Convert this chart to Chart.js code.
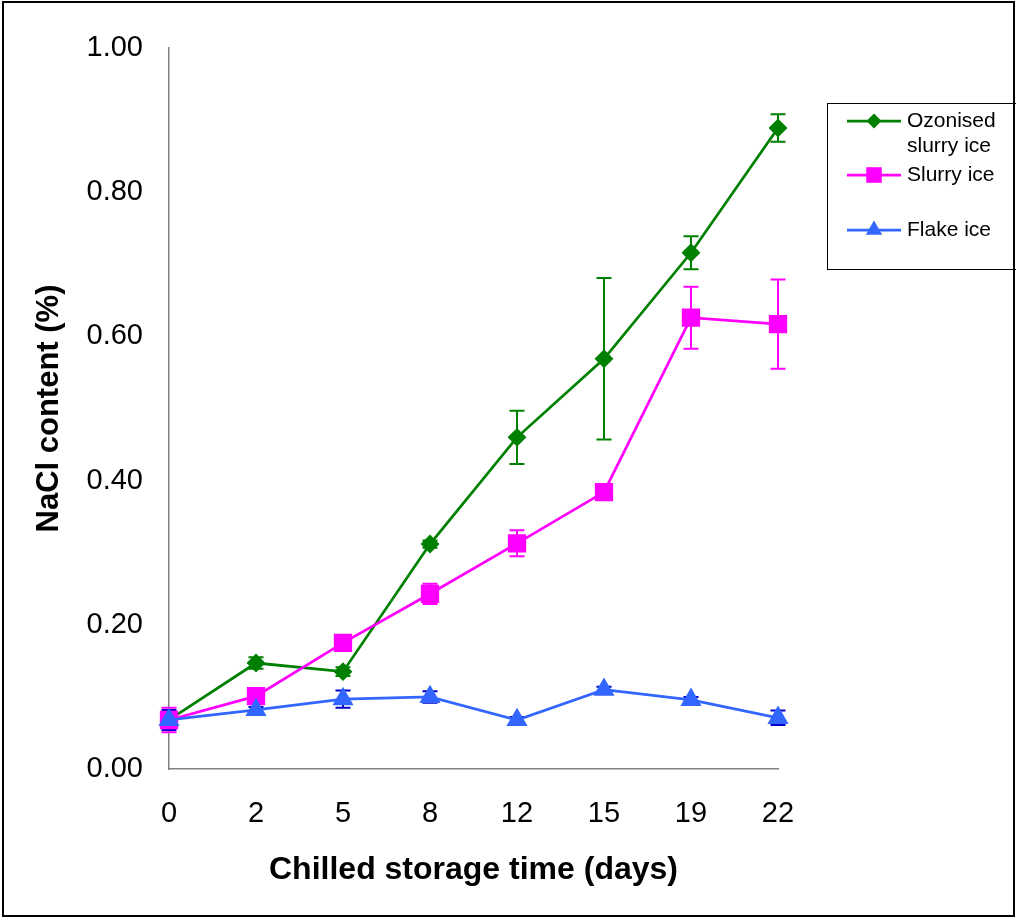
<!DOCTYPE html>
<html>
<head>
<meta charset="utf-8">
<script src="https://cdn.jsdelivr.net/npm/chart.js@4"></script>
<style>
  html, body { margin: 0; padding: 0; background: #fff; }
  #wrap { position: relative; width: 1016px; height: 917px; }
  #frame { position: absolute; left: 2px; top: 1px; width: 1009px; height: 912px; border: 2px solid #000; pointer-events: none; }
</style>
</head>
<body>
<div id="wrap">
  <canvas id="grafico" width="1016" height="917"></canvas>
  <div id="frame"></div>
</div>
<script>
const dias = ['0', '2', '5', '8', '12', '15', '19', '22'];
const yTicks = [0, 0.2, 0.4, 0.6, 0.8, 1.0];

const ozonizado = [0.068, 0.147, 0.135, 0.312, 0.460, 0.569, 0.716, 0.889];
const ozonizadoErro = [0.005, 0.008, 0.006, 0.005, 0.037, 0.112, 0.023, 0.019];
const slurry = [0.068, 0.101, 0.175, 0.243, 0.313, 0.384, 0.626, 0.617];
const slurryErro = [0.017, 0.005, 0.005, 0.014, 0.018, 0.004, 0.043, 0.062];
const flake = [0.068, 0.082, 0.097, 0.100, 0.068, 0.110, 0.096, 0.071];
const flakeErro = [0.014, 0.004, 0.012, 0.008, 0.004, 0.004, 0.004, 0.010];

const legendas = [['Ozonised', 'slurry ice'], ['Slurry ice'], ['Flake ice']];

// barras de erro desenhadas pelas escalas
const errorBars = {
  id: 'errorBars',
  beforeDatasetsDraw(chart) {
    const { ctx, scales: { x, y } } = chart;
    chart.data.datasets.forEach(ds => {
      ctx.save();
      ctx.strokeStyle = ds.errorColor;
      ctx.lineWidth = 2;
      ds.data.forEach((v, i) => {
        const e = ds.errors[i];
        const px = x.getPixelForValue(i);
        const top = y.getPixelForValue(v + e);
        const bot = y.getPixelForValue(v - e);
        ctx.beginPath();
        ctx.moveTo(px, top); ctx.lineTo(px, bot);
        ctx.moveTo(px - 7.5, top); ctx.lineTo(px + 7.5, top);
        ctx.moveTo(px - 7.5, bot); ctx.lineTo(px + 7.5, bot);
        ctx.stroke();
      });
      ctx.restore();
    });
  }
};

// legenda com caixa, como no original
const legendaBox = {
  id: 'legendaBox',
  afterDraw(chart) {
    const ctx = chart.ctx;
    ctx.save();
    ctx.strokeStyle = '#000';
    ctx.lineWidth = 1;
    ctx.strokeRect(827.5, 103.5, 190, 166);
    const rows = [121, 175, 230];
    ctx.font = '21px "Liberation Sans", Arial, sans-serif';
    ctx.textBaseline = 'middle';
    chart.data.datasets.forEach((ds, k) => {
      const cy = rows[k];
      ctx.strokeStyle = ds.borderColor;
      ctx.lineWidth = 2.75;
      ctx.beginPath(); ctx.moveTo(847, cy); ctx.lineTo(901, cy); ctx.stroke();
      ctx.fillStyle = ds.backgroundColor;
      Chart.helpers.drawPoint(ctx, { pointStyle: ds.pointStyle, radius: ds.pointRadius, borderWidth: 0 }, 874, cy);
      ctx.fillStyle = '#000';
      legendas[k].forEach((t, j) => ctx.fillText(t, 907, cy + j * 25));
    });
    ctx.restore();
  }
};

const ctx = document.getElementById('grafico').getContext('2d');
const chart = new Chart(ctx, {
  type: 'line',
  data: {
    labels: dias,
    datasets: [
      {
        label: 'Ozonised slurry ice',
        data: ozonizado,
        errors: ozonizadoErro,
        errorColor: '#008000',
        borderColor: '#008000',
        backgroundColor: '#008000',
        pointStyle: 'rectRot',
        pointRadius: 7.5,
        borderWidth: 2.75,
        order: 2
      },
      {
        label: 'Slurry ice',
        data: slurry,
        errors: slurryErro,
        errorColor: '#ff00ff',
        borderColor: '#ff00ff',
        backgroundColor: '#ff00ff',
        pointStyle: 'rect',
        pointRadius: 11,
        borderWidth: 2.75,
        order: 1
      },
      {
        label: 'Flake ice',
        data: flake,
        errors: flakeErro,
        errorColor: '#0000cc',
        borderColor: '#3366ff',
        backgroundColor: '#3366ff',
        pointStyle: 'triangle',
        pointRadius: 9.5,
        borderWidth: 2.75,
        order: 0
      }
    ]
  },
  options: {
    responsive: false,
    animation: false,
    layout: { padding: { left: 0, top: 48, right: 238, bottom: 0 } },
    elements: { point: { borderWidth: 0, hoverRadius: 0 }, line: { tension: 0 } },
    plugins: { legend: { display: false }, tooltip: { enabled: false } },
    scales: {
      x: {
        type: 'category',
        offset: false,
        grid: { display: false, drawTicks: false },
        border: { display: true, color: '#808080', width: 1.5 },
        ticks: {
          color: '#000',
          padding: 28,
          maxRotation: 0,
          font: { family: '"Liberation Sans", Arial, sans-serif', size: 29 }
        },
        title: {
          display: true,
          text: 'Chilled storage time (days)',
          color: '#000',
          padding: { top: 0, bottom: 28 },
          font: { family: '"Liberation Sans", Arial, sans-serif', size: 32, weight: 'bold' }
        },
        afterFit(s) { s.height = 148; }
      },
      y: {
        min: 0,
        max: 1,
        afterBuildTicks(s) { s.ticks = yTicks.map(v => ({ value: v })); },
        grid: { display: false, drawTicks: false },
        border: { display: true, color: '#808080', width: 1.5 },
        ticks: {
          color: '#000',
          padding: 26,
          callback: v => v.toFixed(2),
          font: { family: '"Liberation Sans", Arial, sans-serif', size: 29 }
        },
        title: {
          display: true,
          text: 'NaCl content (%)',
          color: '#000',
          padding: { top: 31, bottom: 0 },
          font: { family: '"Liberation Sans", Arial, sans-serif', size: 31, weight: 'bold' }
        },
        afterFit(s) { s.width = 169; }
      }
    }
  },
  plugins: [errorBars, legendaBox]
});
</script>
</body>
</html>
